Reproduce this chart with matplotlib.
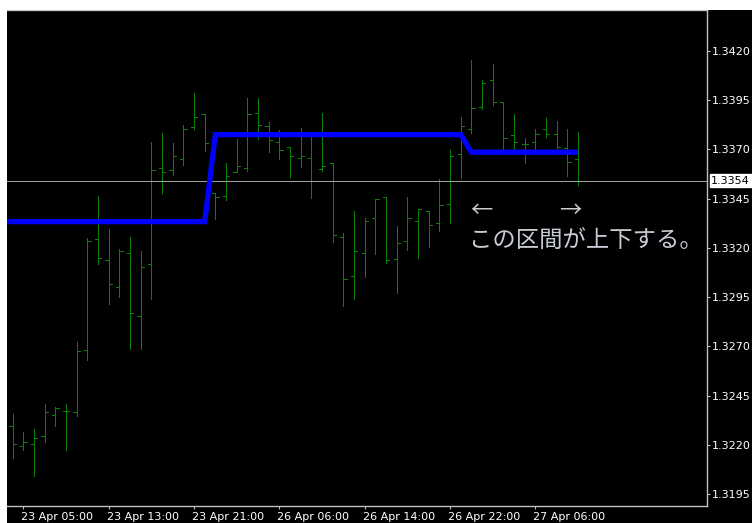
import matplotlib
matplotlib.use("Agg")
import matplotlib.pyplot as plt
import matplotlib.transforms as mtransforms
from matplotlib.patches import Rectangle

# ---------------- data ----------------
opens = [1.32298, 1.32197, 1.32204, 1.32244, 1.32352, 1.32373, 1.32366, 1.32683, 1.33245, 1.33140,
         1.33003, 1.33172, 1.32854, 1.33118, 1.33605, 1.33595, 1.33652, 1.33815, 1.33879, 1.33477,
         1.33463, 1.33586, 1.33607, 1.33884, 1.33817, 1.33735, 1.33710, 1.33654, 1.33654, 1.33600,
         1.33629, 1.33255, 1.33059, 1.33172, 1.33350, 1.33459, 1.33145, 1.33233, 1.33335, 1.33385,
         1.33328, 1.33422, 1.33675, 1.33803, 1.33916, 1.34051, 1.33938, 1.33772, 1.33727, 1.33735,
         1.33803, 1.33778, 1.33708, 1.33649]
highs = [1.32356, 1.32265, 1.32281, 1.32410, 1.32393, 1.32410, 1.32721, 1.33248, 1.33462, 1.33296,
         1.33193, 1.33254, 1.33186, 1.33737, 1.33784, 1.33730, 1.33825, 1.33987, 1.33879, 1.33478,
         1.33629, 1.33751, 1.33960, 1.33960, 1.33837, 1.33798, 1.33710, 1.33806, 1.33785, 1.33886,
         1.33629, 1.33274, 1.33385, 1.33351, 1.33446, 1.33459, 1.33311, 1.33459, 1.33399, 1.33385,
         1.33548, 1.33696, 1.33865, 1.34153, 1.34051, 1.34131, 1.33938, 1.33879, 1.33756, 1.33803,
         1.33857, 1.33843, 1.33803, 1.33786]
lows = [1.32133, 1.32175, 1.32044, 1.32214, 1.32295, 1.32173, 1.32349, 1.32633, 1.33117, 1.32914,
        1.32952, 1.32686, 1.32686, 1.32939, 1.33480, 1.33568, 1.33622, 1.33801, 1.33693, 1.33346,
        1.33443, 1.33586, 1.33591, 1.33752, 1.33685, 1.33651, 1.33561, 1.33609, 1.33454, 1.33591,
        1.33231, 1.32907, 1.32939, 1.33054, 1.33169, 1.33122, 1.32973, 1.33189, 1.33149, 1.33203,
        1.33284, 1.33325, 1.33556, 1.33781, 1.33903, 1.33925, 1.33696, 1.33691, 1.33632, 1.33686,
        1.33762, 1.33700, 1.33566, 1.33519]
closes = [1.32204, 1.32217, 1.32237, 1.32366, 1.32386, 1.32373, 1.32677, 1.33235, 1.33147, 1.33015,
          1.33186, 1.32868, 1.33104, 1.33595, 1.33585, 1.33666, 1.33801, 1.33862, 1.33730, 1.33458,
          1.33564, 1.33614, 1.33877, 1.33823, 1.33749, 1.33695, 1.33667, 1.33667, 1.33770, 1.33614,
          1.33267, 1.33044, 1.33186, 1.33335, 1.33446, 1.33138, 1.33226, 1.33350, 1.33399, 1.33314,
          1.33416, 1.33666, 1.33817, 1.33908, 1.34035, 1.33938, 1.33756, 1.33735, 1.33727, 1.33778,
          1.33776, 1.33713, 1.33634, 1.33539]

# indicator line (first value belongs to the bar just left of the visible window)
line_values = [1.33333,
               1.33333, 1.33333, 1.33333, 1.33333, 1.33333, 1.33333, 1.33333, 1.33333, 1.33333, 1.33333,
               1.33333, 1.33333, 1.33333, 1.33333, 1.33333, 1.33333, 1.33333, 1.33333, 1.33333, 1.33774,
               1.33774, 1.33774, 1.33774, 1.33774, 1.33774, 1.33774, 1.33774, 1.33774, 1.33774, 1.33774,
               1.33774, 1.33774, 1.33774, 1.33774, 1.33774, 1.33774, 1.33774, 1.33774, 1.33774, 1.33774,
               1.33774, 1.33774, 1.33774, 1.33685, 1.33685, 1.33685, 1.33685, 1.33685, 1.33685, 1.33685,
               1.33685, 1.33685, 1.33685, 1.33685]

current_price = 1.3354
price_ticks = [1.3195, 1.3220, 1.3245, 1.3270, 1.3295, 1.3320, 1.3345, 1.3370, 1.3395, 1.3420]
time_labels = ["23 Apr 05:00", "23 Apr 13:00", "23 Apr 21:00", "26 Apr 06:00",
               "26 Apr 14:00", "26 Apr 22:00", "27 Apr 06:00"]
time_label_bars = [1, 9, 17, 25, 33, 41, 49]
annotation = "この区間が上下する。"

# ---------------- figure ----------------
W, H = 752, 523
fig = plt.figure(figsize=(W / 100, H / 100), dpi=100, facecolor="black")
ax = fig.add_axes([7 / W, 1 - 506 / H, 700 / W, 496 / H])
ax.set_facecolor("black")

x = list(range(len(opens)))
bar_color = "#0a820a"
px = 0.72  # 1 pixel in points
ax.vlines(x, lows, highs, color=bar_color, lw=px, antialiased=False)
ax.hlines(opens, [i - 0.3 for i in x], x, color=bar_color, lw=px, antialiased=False)
ax.hlines(closes, x, [i + 0.3 for i in x], color=bar_color, lw=px, antialiased=False)

# current price line
ax.axhline(current_price, color="#a0a0a0", lw=px)

# indicator line
lx = list(range(-1, len(line_values) - 1))
ax.plot(lx, line_values, color="#0000ff", lw=3.8, solid_capstyle="butt", solid_joinstyle="miter")

ax.set_xlim(-0.534, 65.09)
ax.set_ylim(1.31891, 1.34406)

# axes styling
ax.spines["left"].set_visible(False)
for s in ["right", "bottom", "top"]:
    ax.spines[s].set_color("#c0c0c0")
    ax.spines[s].set_linewidth(1.0)

ax.yaxis.tick_right()
ax.set_yticks(price_ticks)
ax.set_yticklabels([f"{v:.4f}" for v in price_ticks])
ax.tick_params(axis="y", colors="#c0c0c0", labelcolor="white", length=2.2, width=0.8,
               pad=1.5, labelsize=8, direction="out")
ax.set_xticks(time_label_bars)
ax.set_xticklabels(time_labels)
ax.tick_params(axis="x", colors="#c0c0c0", labelcolor="white", length=2.5, width=0.8,
               pad=2.0, labelsize=8, direction="out")
offset = mtransforms.ScaledTranslation(-2 / 100, 0, fig.dpi_scale_trans)
for lab in ax.get_xticklabels():
    lab.set_horizontalalignment("left")
    lab.set_transform(lab.get_transform() + offset)

# current price tag
trans = mtransforms.blended_transform_factory(ax.transAxes, ax.transData)
ax.text(1.006, current_price, f"{current_price:.4f}", transform=trans, ha="left", va="center",
        fontsize=8, color="black",
        bbox=dict(boxstyle="square,pad=0.12", facecolor="white", edgecolor="white"))

# annotation
cjk = ["Noto Sans CJK JP", "DejaVu Sans"]
ann_color = "#c8ccd4"
ax.text((470 - 7) / 700, 1 - (211 - 10) / 496, "←", transform=ax.transAxes,
        fontsize=16, color=ann_color, family=cjk, ha="left", va="center")
ax.text((559 - 7) / 700, 1 - (211 - 10) / 496, "→", transform=ax.transAxes,
        fontsize=16, color=ann_color, family=cjk, ha="left", va="center")
ax.text((469 - 7) / 700, 1 - (240 - 10) / 496, annotation, transform=ax.transAxes,
        fontsize=16.8, color=ann_color, family=cjk, ha="left", va="center")

# white screenshot margins
fig.patches.append(Rectangle((0, 0), 7 / W, 1, transform=fig.transFigure,
                             facecolor="white", edgecolor="none", zorder=10))
fig.patches.append(Rectangle((0, 1 - 10 / H), 1, 10 / H, transform=fig.transFigure,
                             facecolor="white", edgecolor="none", zorder=10))

fig.savefig("out.png", dpi=100, facecolor="black")
